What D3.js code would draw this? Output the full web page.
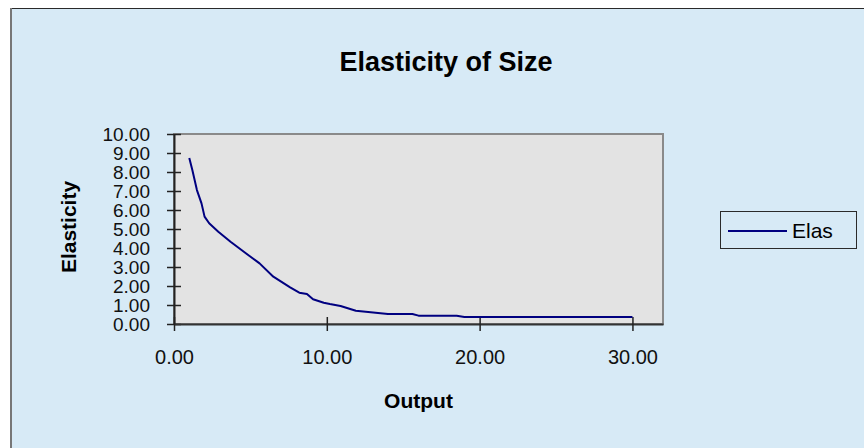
<!DOCTYPE html>
<html>
<head>
<meta charset="utf-8">
<script src="https://cdn.jsdelivr.net/npm/d3@7"></script>
<style>
  html, body { margin: 0; padding: 0; background: #ffffff; }
  svg { display: block; font-family: "Liberation Sans", Arial, sans-serif; }
</style>
</head>
<body>
<svg id="chart" width="864" height="448"></svg>
<script>
// Output levels and the matching elasticity of size
const output = [1.0, 1.2, 1.5, 1.8, 2.0, 2.3, 2.9, 3.7, 4.7, 5.6, 6.5, 7.6, 8.2, 8.7, 9.1, 9.8, 10.2, 10.9, 11.9, 14.0, 15.6, 16.0, 18.5, 19.0, 30.0];
const elasticity = [8.74, 8.1, 7.05, 6.35, 5.65, 5.3, 4.86, 4.33, 3.72, 3.19, 2.49, 1.93, 1.65, 1.58, 1.3, 1.12, 1.05, 0.95, 0.70, 0.53, 0.53, 0.44, 0.44, 0.37, 0.37];
const xTicks = [0, 10, 20, 30];
const yTicks = [0, 1, 2, 3, 4, 5, 6, 7, 8, 9, 10];
const seriesName = "Elas";

const svg = d3.select("#chart");

// chart area background and frame
svg.append("rect").attr("x", 11).attr("y", 9).attr("width", 900).attr("height", 500)
  .attr("fill", "#d7eaf6");
svg.append("line").attr("x1", 10).attr("x2", 864).attr("y1", 8.5).attr("y2", 8.5)
  .attr("stroke", "#2a2a2a").attr("stroke-width", 1);
svg.append("line").attr("x1", 11).attr("x2", 11).attr("y1", 8).attr("y2", 448)
  .attr("stroke", "#777777").attr("stroke-width", 2);

const plot = { left: 174, right: 663, top: 134, bottom: 324 };

const x = d3.scaleLinear().domain([0, 32]).range([plot.left, plot.right]);
const y = d3.scaleLinear().domain([0, 10]).range([plot.bottom, plot.top]);

// plot area
svg.append("rect")
  .attr("x", plot.left).attr("y", plot.top)
  .attr("width", plot.right - plot.left).attr("height", plot.bottom - plot.top)
  .attr("fill", "#e3e3e3").attr("stroke", "#8a8a8a").attr("stroke-width", 2);

// title
svg.append("text").attr("x", 446).attr("y", 71)
  .attr("text-anchor", "middle").attr("font-size", 27).attr("font-weight", "bold")
  .text("Elasticity of Size");

// y axis
const yAxis = d3.axisLeft(y).tickValues(yTicks).tickFormat(d3.format(".2f"))
  .tickSizeInner(7).tickSizeOuter(0).tickPadding(17);
const gy = svg.append("g").attr("transform", `translate(${plot.left},0)`).call(yAxis);
gy.select(".domain").attr("stroke", "#222").attr("stroke-width", 2);
gy.selectAll(".tick line").attr("x2", 7).attr("x1", -7).attr("stroke", "#222").attr("stroke-width", 1.5);
gy.selectAll(".tick text").attr("font-size", 19).attr("fill", "#111").attr("x", -24)
  .attr("font-family", "Liberation Sans, Arial, sans-serif");

// x axis
const xAxis = d3.axisBottom(x).tickValues(xTicks).tickFormat(d3.format(".2f"))
  .tickSizeInner(7).tickSizeOuter(0).tickPadding(18);
const gx = svg.append("g").attr("transform", `translate(0,${plot.bottom})`).call(xAxis);
gx.select(".domain").attr("stroke", "#333").attr("stroke-width", 2);
gx.selectAll(".tick line").attr("y1", -7).attr("y2", 7).attr("stroke", "#222").attr("stroke-width", 1.5);
gx.selectAll(".tick text").attr("font-size", 20).attr("fill", "#111").attr("dy", "0.71em").attr("y", 26)
  .attr("font-family", "Liberation Sans, Arial, sans-serif");

// axis titles
svg.append("text").attr("x", (plot.left + plot.right) / 2).attr("y", 408)
  .attr("text-anchor", "middle").attr("font-size", 21).attr("font-weight", "bold")
  .text("Output");
svg.append("text").attr("transform", "translate(76,227) rotate(-90)")
  .attr("text-anchor", "middle").attr("font-size", 21).attr("font-weight", "bold")
  .text("Elasticity");

// series line
const pts = output.map((o, i) => [o, elasticity[i]]);
svg.append("path").datum(pts)
  .attr("fill", "none").attr("stroke", "#000080").attr("stroke-width", 2)
  .attr("stroke-linejoin", "round")
  .attr("d", d3.line().x(d => x(d[0])).y(d => y(d[1])));

// legend
const lg = svg.append("g").attr("transform", "translate(720,211)");
lg.append("rect").attr("x", 0.5).attr("y", 0.5).attr("width", 136).attr("height", 37)
  .attr("fill", "#d7eaf6").attr("stroke", "#2a2a2a").attr("stroke-width", 1);
lg.append("line").attr("x1", 8).attr("x2", 67).attr("y1", 20).attr("y2", 20)
  .attr("stroke", "#000080").attr("stroke-width", 2);
lg.append("text").attr("x", 72).attr("y", 27).attr("font-size", 21).text(seriesName);
</script>
</body>
</html>
